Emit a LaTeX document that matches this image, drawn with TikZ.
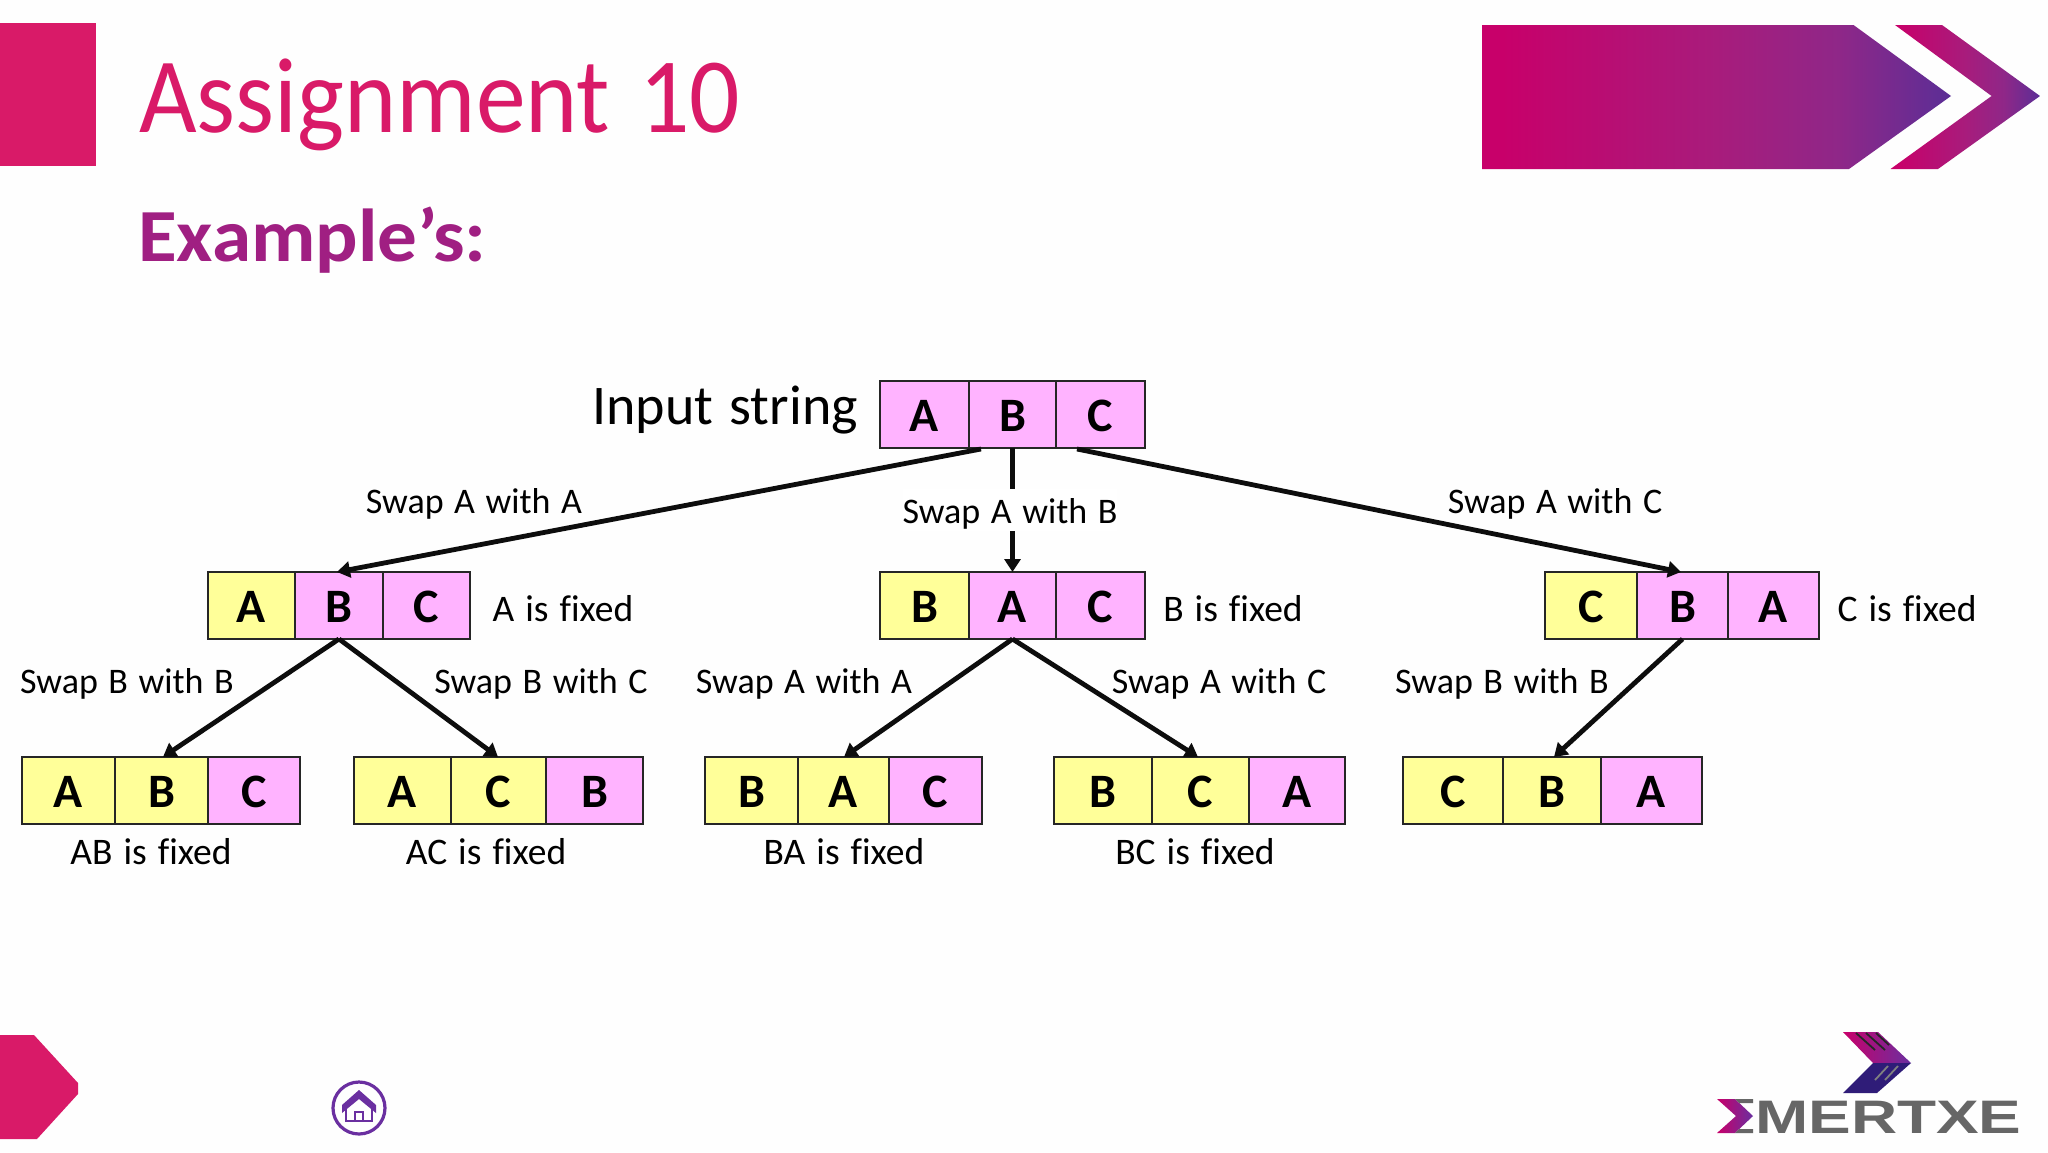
\documentclass[tikz,border=0pt]{standalone}
\usepackage{fontspec}
\usepackage{graphicx}
\setmainfont{Carlito}[Ligatures=NoCommon,WordSpace=1.3]
\newfontfamily\logofont{Liberation Sans}[BoldFont={Liberation Sans Bold}]
\usetikzlibrary{arrows.meta}
\definecolor{crimson}{HTML}{D91A68}
\definecolor{plumtxt}{HTML}{A01F82}
\definecolor{pinkcell}{HTML}{FFB3FF}
\definecolor{yellowcell}{HTML}{FFFF99}
\definecolor{gradA}{HTML}{C8006A}
\definecolor{gradB}{HTML}{A81C7C}
\definecolor{gradD}{HTML}{8F2788}
\definecolor{gradC}{HTML}{5B2E96}
\definecolor{homec}{HTML}{6A2FA0}
\definecolor{navy}{HTML}{2F1C78}
\definecolor{logogray}{HTML}{666666}
\pgfdeclarehorizontalshading{hdrshade}{100bp}{color(0bp)=(gradA); color(27bp)=(gradA); color(50bp)=(gradB); color(63bp)=(gradD); color(75bp)=(gradC); color(100bp)=(gradC)}
\tikzset{
  cell/.style={draw=black!85,line width=2.6pt,inner sep=0pt,outer sep=0pt,text=black,
    font=\fontsize{48}{48}\selectfont\bfseries,text height=34pt,text depth=0pt},
  edge/.style={line width=4.8pt,draw=black!95,-{Triangle[length=13pt,width=16pt]}},
  lbl/.style={inner sep=0pt,outer sep=0pt,anchor=base,text=black,font=\fontsize{36}{36}\selectfont},
  fixedlbl/.style={lbl,font=\fontsize{37.5}{37.5}\selectfont},
}
\newcommand{\cellbox}[7]{\node[cell,fill=#6,minimum width={(#3-#2)*1pt},minimum height={(#5-#4)*1pt}] (#1) at ({(#2+#3)/2},{(#4+#5)/2}) {#7};}
\begin{document}
\begin{tikzpicture}[x=1pt,y=-1pt]
\useasboundingbox (0,0) rectangle (2048,1152);
\fill[white!99.5!black] (0,0) rectangle (2048,1152);
% header
\fill[crimson] (0,23) rectangle (96,166);
\shade[shading=hdrshade] (1482,25) -- (1853.5,25) -- (1951,96) -- (1849,169) -- (1482,169) -- cycle;
\shade[shading=hdrshade] (1895,25) -- (1942,25) -- (2040,96) -- (1938,169) -- (1890.5,169) -- (1991.6,96) -- cycle;
\node[inner sep=0pt,anchor=base west,text=crimson,font=\fontsize{107}{107}\selectfont] (title) at (139,132) {\scalebox{0.93}[1]{Assignment 10}};
\node[inner sep=0pt,anchor=base west,text=plumtxt,font=\fontsize{75}{75}\selectfont\bfseries] (sub) at (138,261) {\scalebox{1.056}[1]{Example’s:}};
% footer
\fill[crimson] (0,1035) -- (34,1035) -- (78,1083) -- (78,1094) -- (37,1139) -- (0,1139) -- cycle;
\draw[homec,line width=3.2pt] (359,1108) circle (26);
\fill[homec] (359,1090) -- (376,1105) -- (376,1113) -- (359,1099) -- (342,1113) -- (342,1105) -- cycle;
\draw[homec,line width=2.6pt] (346,1109) -- (346,1121) -- (372,1121) -- (372,1109);
\draw[homec,line width=2.6pt] (355,1121) -- (355,1112) -- (363,1112) -- (363,1121);
% logo
\shade[left color=gradA,right color=homec] (1843,1032) -- (1878,1032) -- (1911,1063) -- (1873,1063) -- cycle;
\fill[navy] (1873,1063) -- (1911,1063) -- (1877,1093) -- (1843,1093) -- cycle;
\draw[black!85,line width=1.8pt] (1856,1033) -- (1875,1050) (1866,1033) -- (1885,1050) (1876,1033) -- (1889,1045);
\draw[gray,line width=1.8pt] (1875,1080) -- (1888,1066) (1885,1080) -- (1898,1066);
\shade[left color=gradA,right color=homec] (1717,1099) -- (1735,1099) -- (1753,1116) -- (1735,1133) -- (1717,1133) -- (1736,1116) -- cycle;
\fill[logogray] (1735,1099) -- (1753,1099) -- (1753,1103) -- (1739,1103) -- cycle;
\fill[logogray] (1735,1133) -- (1753,1133) -- (1753,1129) -- (1739,1129) -- cycle;
\node[inner sep=0pt,anchor=base west,text=logogray] (logo) at (1755,1133) {\logofont\bfseries\fontsize{47}{47}\selectfont\scalebox{1.36}[1]{MERTXE}};
% row 0
\node[lbl,font=\fontsize{56}{56}\selectfont] (input) at (725,424) {Input string};
\cellbox{r0a}{880}{969}{381}{448}{pinkcell}{A}
\cellbox{r0b}{969}{1056}{381}{448}{pinkcell}{B}
\cellbox{r0c}{1056}{1145}{381}{448}{pinkcell}{C}
% row 1
\cellbox{la}{208}{295}{572}{639}{yellowcell}{A}
\cellbox{lb}{295}{383}{572}{639}{pinkcell}{B}
\cellbox{lc}{383}{470}{572}{639}{pinkcell}{C}
\cellbox{ma}{880}{969}{572}{639}{yellowcell}{B}
\cellbox{mb}{969}{1056}{572}{639}{pinkcell}{A}
\cellbox{mc}{1056}{1145}{572}{639}{pinkcell}{C}
\cellbox{ra}{1545}{1637}{572}{639}{yellowcell}{C}
\cellbox{rb}{1637}{1728}{572}{639}{pinkcell}{B}
\cellbox{rc}{1728}{1819}{572}{639}{pinkcell}{A}
% row 2
\cellbox{aa}{22}{115}{757}{824}{yellowcell}{A}
\cellbox{ab}{115}{208}{757}{824}{yellowcell}{B}
\cellbox{ac}{208}{300}{757}{824}{pinkcell}{C}
\cellbox{ba}{354}{451}{757}{824}{yellowcell}{A}
\cellbox{bb}{451}{546}{757}{824}{yellowcell}{C}
\cellbox{bc}{546}{643}{757}{824}{pinkcell}{B}
\cellbox{ca}{705}{798}{757}{824}{yellowcell}{B}
\cellbox{cb}{798}{889}{757}{824}{yellowcell}{A}
\cellbox{cc}{889}{982}{757}{824}{pinkcell}{C}
\cellbox{da}{1054}{1152}{757}{824}{yellowcell}{B}
\cellbox{db}{1152}{1249}{757}{824}{yellowcell}{C}
\cellbox{dc}{1249}{1345}{757}{824}{pinkcell}{A}
\cellbox{ea}{1403}{1503}{757}{824}{yellowcell}{C}
\cellbox{eb}{1503}{1601}{757}{824}{yellowcell}{B}
\cellbox{ec}{1601}{1702}{757}{824}{pinkcell}{A}
% connector free ends
\coordinate (s1) at (981,449);
\coordinate (s2) at (1077,449);
\coordinate (e1) at (337,572);
\coordinate (e2) at (1681,572);
\coordinate (e3) at (163,757);
\coordinate (e4) at (498,757);
\coordinate (e5) at (844,757);
\coordinate (e6) at (1198,757);
\coordinate (e7) at (1554,757);
% connectors
\draw[edge] (s1) -- (e1);
\draw[edge] (r0b.south) -- (mb.north);
\draw[edge] (s2) -- (e2);
\draw[edge] (lb.south) -- (e3);
\draw[edge] (lb.south) -- (e4);
\draw[edge] (mb.south) -- (e5);
\draw[edge] (mb.south) -- (e6);
\draw[edge] (rb.south) -- (e7);
% labels
\node[lbl] (t1) at (474,513) {Swap A with A};
\node[lbl,fill=white,inner ysep=8pt,text height=26pt,text depth=0pt] (t2) at (1010,523) {Swap A with B};
\node[lbl] (t3) at (1555,513) {Swap A with C};
\node[fixedlbl] (f1) at (563,621) {A is fixed};
\node[fixedlbl] (f2) at (1233,621) {B is fixed};
\node[fixedlbl] (f3) at (1907,621) {C is fixed};
\node[lbl] (t4) at (127,693) {Swap B with B};
\node[lbl] (t5) at (541,693) {Swap B with C};
\node[lbl] (t6) at (804,693) {Swap A with A};
\node[lbl] (t7) at (1219,693) {Swap A with C};
\node[lbl] (t8) at (1502,693) {Swap B with B};
\node[fixedlbl] (g1) at (151,864) {AB is fixed};
\node[fixedlbl] (g2) at (486,864) {AC is fixed};
\node[fixedlbl] (g3) at (844,864) {BA is fixed};
\node[fixedlbl] (g4) at (1195,864) {BC is fixed};
\end{tikzpicture}
\end{document}
